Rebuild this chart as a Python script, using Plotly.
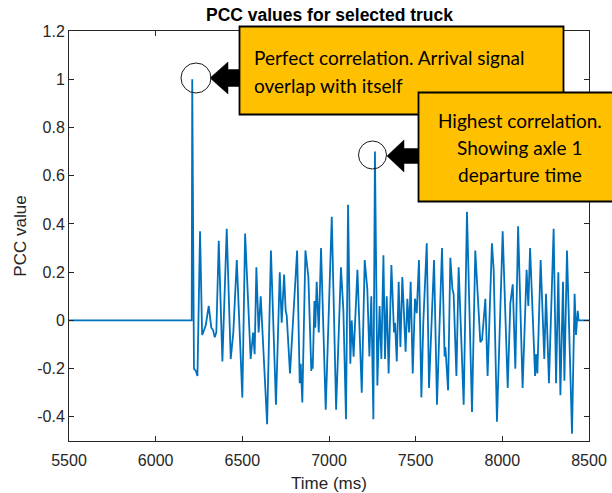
import plotly.graph_objects as go

# PCC trace: time (ms) and correlation value at each sample point
time_ms = [
    5500, 6208, 6211, 6214, 6221, 6232, 6241, 6256, 6268, 6279, 6289, 6306,
    6321, 6331, 6341, 6350, 6364, 6385, 6410, 6433, 6448, 6468, 6485, 6500,
    6516, 6529, 6548, 6562, 6571, 6581, 6594, 6606, 6619, 6643, 6665, 6694,
    6716, 6727, 6741, 6750, 6756, 6775, 6816, 6831, 6837, 6846, 6864, 6881,
    6898, 6902, 6906, 6916, 6921, 6929, 6941, 6954, 6981, 7016, 7041, 7069,
    7083, 7098, 7110, 7123, 7131, 7142, 7164, 7189, 7206, 7221, 7233, 7244,
    7256, 7265, 7279, 7292, 7302, 7314, 7323, 7333, 7344, 7360, 7375, 7381,
    7391, 7402, 7412, 7423, 7433, 7442, 7452, 7462, 7471, 7483, 7496, 7506,
    7519, 7533, 7544, 7564, 7577, 7606, 7623, 7652, 7667, 7671, 7675, 7687,
    7700, 7712, 7719, 7735, 7748, 7777, 7796, 7825, 7844, 7873, 7883, 7902,
    7915, 7940, 7950, 7969, 8002, 8031, 8046, 8060, 8075, 8091, 8117, 8140,
    8150, 8160, 8189, 8194, 8202, 8221, 8242, 8252, 8269, 8281, 8296, 8310,
    8323, 8335, 8350, 8358, 8373, 8402, 8417, 8425, 8435, 8440, 8500,
]
pcc_value = [
    0.0, 0.0, 1.0, 0.47, -0.20, -0.21, -0.23, 0.37, -0.06, -0.04, -0.02, 0.06,
    -0.03, -0.04, -0.07, -0.05, 0.33, -0.17, 0.38, -0.16, -0.05, 0.25, -0.05, -0.32,
    0.36, 0.14, -0.16, -0.05, -0.14, 0.22, -0.05, 0.10, -0.08, -0.43, 0.29, -0.35,
    0.20, -0.01, 0.19, 0.04, 0.02, -0.22, 0.29, -0.26, -0.18, -0.34, 0.29, 0.18,
    -0.21, -0.16, -0.20, 0.08, -0.03, 0.16, -0.05, 0.30, -0.37, 0.43, -0.37, 0.22,
    0.04, -0.41, 0.48, -0.18, 0.00, -0.15, 0.21, -0.30, 0.25, 0.13, -0.15, 0.10,
    -0.41, 0.70, -0.27, 0.06, -0.16, 0.27, -0.16, 0.10, -0.22, 0.23, -0.05, -0.01,
    -0.17, 0.16, -0.11, 0.18, 0.02, -0.13, 0.09, -0.05, 0.16, -0.22, 0.09, 0.03,
    0.25, -0.32, -0.01, 0.32, -0.28, 0.25, -0.35, 0.30, -0.15, -0.11, -0.15, -0.29,
    0.26, 0.13, 0.11, -0.23, 0.22, -0.35, 0.45, -0.38, 0.29, -0.09, -0.08, 0.09,
    -0.23, 0.32, 0.21, -0.42, 0.37, -0.28, 0.07, 0.15, -0.20, 0.39, -0.28, 0.21,
    0.06, 0.30, -0.23, -0.14, -0.22, 0.25, -0.16, 0.11, -0.26, 0.02, 0.38, -0.26,
    0.20, -0.31, 0.16, -0.25, 0.29, -0.47, 0.11, -0.06, 0.04, 0.0, 0.0,
]

x_ticks = [5500, 6000, 6500, 7000, 7500, 8000, 8500]
x_tick_labels = ["5500", "6000", "6500", "7000", "7500", "8000", "8500"]
y_ticks = [-0.4, -0.2, 0, 0.2, 0.4, 0.6, 0.8, 1.0, 1.2]
y_tick_labels = ["-0.4", "-0.2", "0", "0.2", "0.4", "0.6", "0.8", "1", "1.2"]

callout_self = ["Perfect correlation. Arrival signal", "overlap with itself"]
callout_axle = ["Highest correlation.", "Showing axle 1", "departure time"]

# Figure / plot-area geometry in pixels
FIG_W, FIG_H = 612, 493
L, R, T, B = 69, 589, 31, 441
W, H = R - L, B - T


def px(x):
    return (x - L) / W


def py(y):
    return (B - y) / H


AX = "#262626"
GOLD = "#FFC000"
FONT = "Liberation Sans, Arial, sans-serif"
CALLOUT_FONT = "Lato, sans-serif"

fig = go.Figure()
fig.add_trace(go.Scatter(
    x=time_ms, y=pcc_value, mode="lines",
    line=dict(color="#0072BD", width=1.8),
    hoverinfo="skip", showlegend=False,
))

axis_common = dict(
    showgrid=False, zeroline=False, showline=True, linecolor=AX, linewidth=1,
    mirror="ticks", ticks="inside", ticklen=5, tickwidth=1, tickcolor=AX,
    tickfont=dict(family=FONT, size=16, color=AX),
)

fig.update_xaxes(
    range=[5500, 8500], tickvals=x_ticks, ticktext=x_tick_labels,
    ticklabelstandoff=5,
    title=dict(text="Time (ms)", font=dict(family=FONT, size=17, color=AX), standoff=12),
    **axis_common,
)
fig.update_yaxes(
    range=[-0.5, 1.2], tickvals=y_ticks, ticktext=y_tick_labels,
    title=dict(text="PCC value", font=dict(family=FONT, size=17, color=AX), standoff=6),
    **axis_common,
)


def poly(points):
    return "M " + " L ".join(f"{px(x):.5f},{py(y):.5f}" for x, y in points) + " Z"


shapes = []
# Block arrows (drawn first so the boxes cover their tails)
shapes.append(dict(
    type="path", xref="paper", yref="paper", layer="above",
    path=poly([(210, 78), (228, 62), (228, 69.5), (242, 69.5), (242, 86.5), (228, 86.5), (228, 94)]),
    fillcolor="black", line=dict(color="black", width=0.5),
))
shapes.append(dict(
    type="path", xref="paper", yref="paper", layer="above",
    path=poly([(387, 156), (404, 140), (404, 148.5), (420, 148.5), (420, 163.5), (404, 163.5), (404, 172)]),
    fillcolor="black", line=dict(color="black", width=0.5),
))
# Callout boxes
shapes.append(dict(
    type="rect", xref="paper", yref="paper", layer="above",
    x0=px(239.5), x1=px(563.5), y0=py(114.5), y1=py(26.5),
    fillcolor=GOLD, line=dict(color="black", width=1.8),
))
shapes.append(dict(
    type="rect", xref="paper", yref="paper", layer="above",
    x0=px(418.5), x1=px(640), y0=py(201.5), y1=py(92.5),
    fillcolor=GOLD, line=dict(color="black", width=1.8),
))
# Rings around the two peaks
for cx, cy, r in [(196, 78, 15), (372.5, 155, 14)]:
    shapes.append(dict(
        type="circle", xref="paper", yref="paper", layer="above",
        x0=px(cx - r), x1=px(cx + r), y0=py(cy + r), y1=py(cy - r),
        line=dict(color="#1a1a1a", width=1),
    ))

annotations = []
for text, y in zip(callout_self, [58, 85]):
    annotations.append(dict(
        xref="paper", yref="paper", x=px(252), y=py(y), xanchor="left", yanchor="middle",
        text=text, showarrow=False, font=dict(family=CALLOUT_FONT, size=19, color="black"),
    ))
for text, y in zip(callout_axle, [121, 147.5, 174]):
    annotations.append(dict(
        xref="paper", yref="paper", x=px(520), y=py(y), xanchor="center", yanchor="middle",
        text=text, showarrow=False, font=dict(family=CALLOUT_FONT, size=19, color="black"),
    ))

fig.update_layout(
    width=FIG_W, height=FIG_H,
    margin=dict(l=L, r=FIG_W - R, t=T, b=FIG_H - B, autoexpand=False),
    paper_bgcolor="white", plot_bgcolor="white",
    title=dict(text="<b>PCC values for selected truck</b>", xref="paper", x=px(329.5),
               xanchor="center", y=1 - 15 / FIG_H, yanchor="middle",
               font=dict(family=FONT, size=17.5, color="black")),
    shapes=shapes, annotations=annotations,
)

fig.write_html("out.html")
